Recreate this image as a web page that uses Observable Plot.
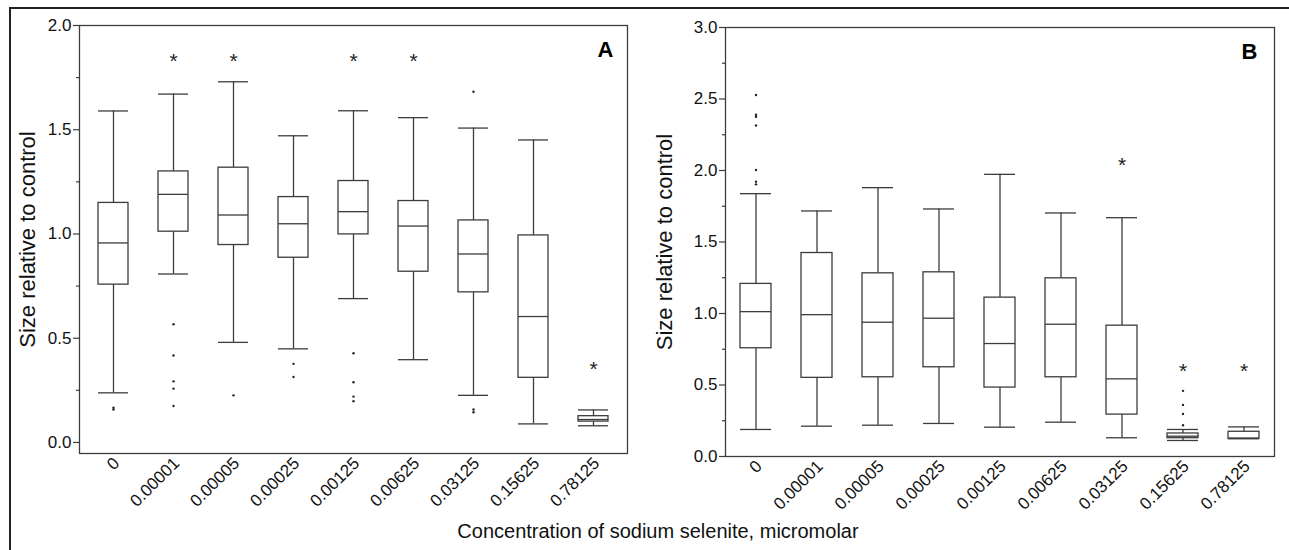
<!DOCTYPE html>
<html><head><meta charset="utf-8">
<script src="https://cdn.jsdelivr.net/npm/d3@7"></script>
<script src="https://cdn.jsdelivr.net/npm/@observablehq/plot@0.6"></script>
<style>
body{margin:0;background:#fff;font-family:"Liberation Sans",Arial,sans-serif;}
#fig{position:relative;width:1289px;height:550px;overflow:hidden;background:#fff;}
#border{position:absolute;left:9px;top:7px;width:1400px;height:700px;border-left:2px solid #222;border-top:2px solid #222;}
.panel{position:absolute;top:0;}
#caption{position:absolute;left:258px;width:800px;top:521px;text-align:center;font-size:20px;line-height:20px;color:#111;white-space:nowrap;}
</style></head><body>
<div id="fig"><div id="border"></div><div id="pA" class="panel" style="left:0px"></div><div id="pB" class="panel" style="left:640px"></div><div id="caption">Concentration of sodium selenite, micromolar</div></div>
<script>
const categories = ["0","0.00001","0.00005","0.00025","0.00125","0.00625","0.03125","0.15625","0.78125"];

// Panel A
const lowA  = [0.238, 0.808, 0.480, 0.449, 0.690, 0.397, 0.226, 0.089, 0.080];
const q1A   = [0.757, 1.011, 0.947, 0.886, 0.998, 0.819, 0.720, 0.310, 0.100];
const medA  = [0.957, 1.190, 1.091, 1.049, 1.107, 1.038, 0.904, 0.604, 0.110];
const q3A   = [1.149, 1.300, 1.318, 1.177, 1.254, 1.158, 1.065, 0.993, 0.126];
const highA = [1.590, 1.671, 1.730, 1.471, 1.591, 1.558, 1.508, 1.451, 0.156];
const outCatA = [0, 0, 1, 1, 1, 1, 1, 2, 3, 3, 4, 4, 4, 4, 6, 6, 6];
const outValA = [0.158, 0.167, 0.567, 0.417, 0.293, 0.258, 0.175, 0.226, 0.377, 0.314, 0.428, 0.289, 0.220, 0.198, 1.682, 0.158, 0.145];
const starCatA = [1, 2, 4, 5, 8];
const starValA = [1.84, 1.84, 1.84, 1.84, 0.361];

// Panel B
const lowB  = [0.189, 0.212, 0.219, 0.231, 0.205, 0.240, 0.131, 0.112, 0.124];
const q1B   = [0.757, 0.550, 0.554, 0.624, 0.482, 0.554, 0.293, 0.128, 0.124];
const medB  = [1.013, 0.992, 0.939, 0.967, 0.790, 0.925, 0.543, 0.142, 0.128];
const q3B   = [1.207, 1.423, 1.281, 1.288, 1.111, 1.246, 0.915, 0.161, 0.173];
const highB = [1.838, 1.717, 1.880, 1.731, 1.973, 1.703, 1.670, 0.189, 0.207];
const outCatB = [0, 0, 0, 0, 0, 0, 0, 7, 7, 7, 7];
const outValB = [2.528, 2.390, 2.376, 2.315, 2.003, 1.922, 1.903, 0.459, 0.361, 0.298, 0.219];
const starCatB = [6, 7, 8];
const starValB = [2.054, 0.610, 0.610];

const ticksA = [0, 0.5, 1.0, 1.5, 2.0];
const minorA = [0.25, 0.75, 1.25, 1.75];
const ticksB = [0, 0.5, 1.0, 1.5, 2.0, 2.5, 3.0];
const minorB = [0.25, 0.75, 1.25, 1.75, 2.25, 2.75];

const yLabel = "Size relative to control";
const LINE = "#3c3c3c";
const FONT = "'Liberation Sans', Arial, sans-serif";

function panel(o) {
  const rows = categories.map((c, i) => ({c, low: o.low[i], q1: o.q1[i], med: o.med[i], q3: o.q3[i], high: o.high[i]}));
  const outs = o.outCat.map((k, i) => ({c: categories[k], v: o.outVal[i]}));
  const stars = o.starCat.map((k, i) => ({c: categories[k], v: o.starVal[i]}));
  return Plot.plot({
    width: o.width, height: 550,
    marginLeft: o.ml, marginRight: o.mr, marginTop: o.mt, marginBottom: o.mb,
    style: {fontFamily: FONT, fontSize: "17px", background: "transparent", color: "#111"},
    x: {type: "band", domain: categories, paddingInner: 0.5, paddingOuter: 0.25},
    y: {domain: o.yDomain},
    marks: [
      Plot.axisY({ticks: o.majors, tickFormat: d3.format(".1f"), tickSize: 6, tickPadding: 2, fontSize: 17, label: null, stroke: LINE, strokeWidth: 1.2}),
      Plot.axisY({ticks: o.minors, tickFormat: () => "", tickSize: 3, label: null, stroke: LINE, strokeWidth: 1.2}),
      Plot.axisX({tickRotate: -45, tickSize: 0, tickPadding: 7, dx: 3, fontSize: 17, label: null}),
      Plot.ruleX(rows, {x: "c", y1: "low", y2: "q1", stroke: LINE, strokeWidth: 1.3}),
      Plot.ruleX(rows, {x: "c", y1: "q3", y2: "high", stroke: LINE, strokeWidth: 1.3}),
      Plot.barY(rows, {x: "c", y1: "q1", y2: "q3", fill: "white", stroke: LINE, strokeWidth: 1.3}),
      Plot.tickY(rows, {x: "c", y: "med", stroke: LINE, strokeWidth: 1.3}),
      Plot.tickY(rows, {x: "c", y: "low", stroke: LINE, strokeWidth: 1.3}),
      Plot.tickY(rows, {x: "c", y: "high", stroke: LINE, strokeWidth: 1.3}),
      Plot.dot(outs, {x: "c", y: "v", r: 1.2, fill: "#222", stroke: null}),
      Plot.text(stars, {x: "c", y: "v", text: () => "*", fontSize: 21, dy: 2, fill: "#222"}),
      Plot.text([o.letter], {frameAnchor: "top-right", dx: o.letterDx, dy: 16, lineAnchor: "top", textAnchor: "end", fontSize: 22, fontWeight: "bold", fill: "#000"}),
      Plot.text([yLabel], {frameAnchor: "left", dx: o.labelDx, rotate: -90, textAnchor: "middle", lineAnchor: "middle", fontSize: 22, fill: "#111"}),
      Plot.frame({stroke: LINE, strokeWidth: 1.3})
    ]
  });
}

document.getElementById("pA").append(panel({
  low: lowA, q1: q1A, med: medA, q3: q3A, high: highA,
  outCat: outCatA, outVal: outValA, starCat: starCatA, starVal: starValA,
  yDomain: [-0.053, 2.0], majors: ticksA, minors: minorA, letter: "A",
  width: 640, ml: 79, mr: 13, mt: 25, mb: 97, labelDx: -52, letterDx: -14
}));
document.getElementById("pB").append(panel({
  low: lowB, q1: q1B, med: medB, q3: q3B, high: highB,
  outCat: outCatB, outVal: outValB, starCat: starCatB, starVal: starValB,
  yDomain: [0, 3.0], majors: ticksB, minors: minorB, letter: "B",
  width: 649, ml: 85, mr: 15, mt: 27, mb: 94, labelDx: -61, letterDx: -17
}));
</script>
</body></html>
